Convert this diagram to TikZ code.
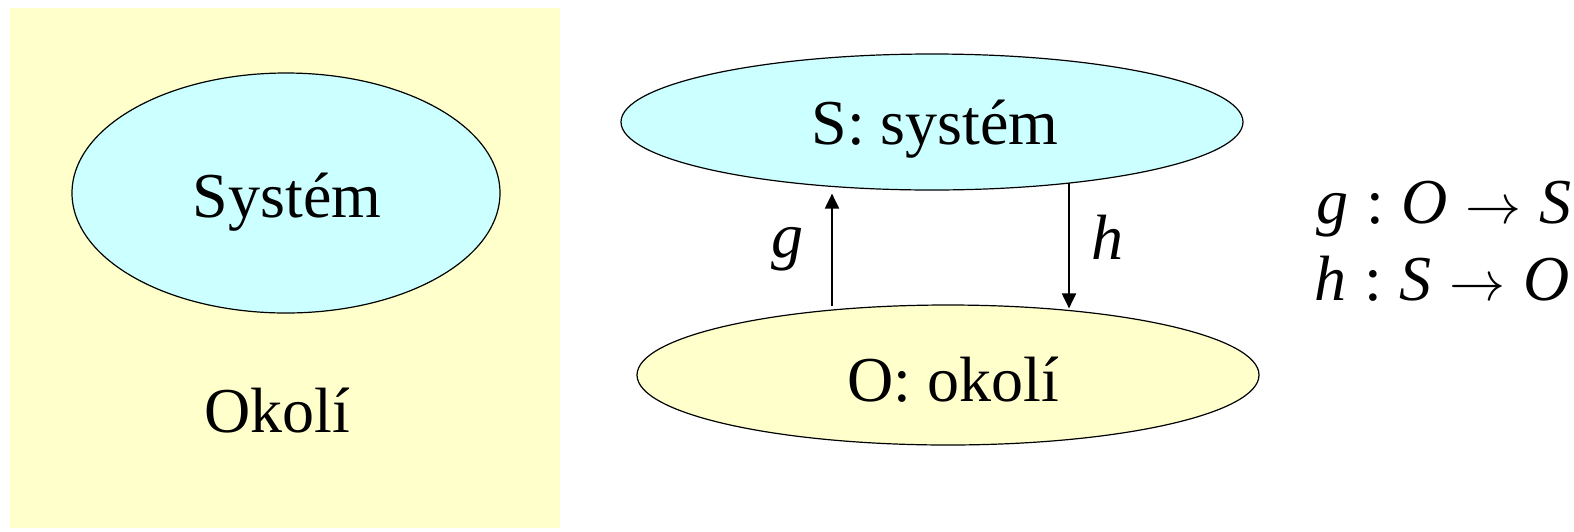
\documentclass[tikz,border=0pt]{standalone}
\usepackage{fontspec}
\setmainfont{Liberation Serif}
\usetikzlibrary{arrows.meta, positioning, shapes.geometric, calc}
\definecolor{sysblue}{RGB}{204,255,255}
\definecolor{envyellow}{RGB}{255,255,204}
\newcommand{\maparrow}{\;\resizebox{28pt}{!}{$\rightarrow$}\;}

\begin{document}
\begin{tikzpicture}[x=0.5pt, y=-0.5pt,
    every node/.style={font=\fontsize{32}{38}\selectfont, inner sep=0pt},
    blob/.style={ellipse, draw, line width=0.6pt},
    arr/.style={line width=1pt, -{Triangle[length=7.5pt, width=7pt]}}]
    \useasboundingbox (0,0) rectangle (1574,531);

    % Surroundings with the system inside
    \fill[envyellow] (10,8) rectangle (560,528);
    \node[blob, fill=sysblue, minimum width=214pt, minimum height=120pt] (sys) at (286,193) {};
    \node[anchor=base] (systxt) at (287,217) {Systém};
    \node[anchor=base] (env) at (277,432) {Okolí};

    % System and surroundings as two blocks
    \node[blob, fill=sysblue, minimum width=311pt, minimum height=68pt] (S) at (932,122) {};
    \node[anchor=base] (Stxt) at (935,144) {S: systém};
    \node[blob, fill=envyellow, minimum width=311pt, minimum height=70pt] (O) at (948,375) {};
    \node[anchor=base] (Otxt) at (953,401) {O: okolí};

    % Maps between them
    \coordinate (gfoot) at ([xshift=-58pt,yshift=-1pt]O.north);
    \coordinate (htop) at ([xshift=68.5pt,yshift=4pt]S.south);
    \draw[arr] (gfoot) -- ($(gfoot |- S.south)+(0,3)$);
    \draw[arr] (htop) -- ($(htop |- O.north)+(0,4)$);
    \node[anchor=base] (g) at (787,257) {\textit{g}};
    \node[anchor=base] (h) at (1107,259) {\textit{h}};

    % Definitions
    \node[anchor=base west] (gdef) at (1316,223) {\textit{g}\;:\;\textit{O}\maparrow\textit{S}};
    \node[anchor=base west] (hdef) at (1314,300) {\textit{h}\;:\;\textit{S}\maparrow\textit{O}};
\end{tikzpicture}
\end{document}
